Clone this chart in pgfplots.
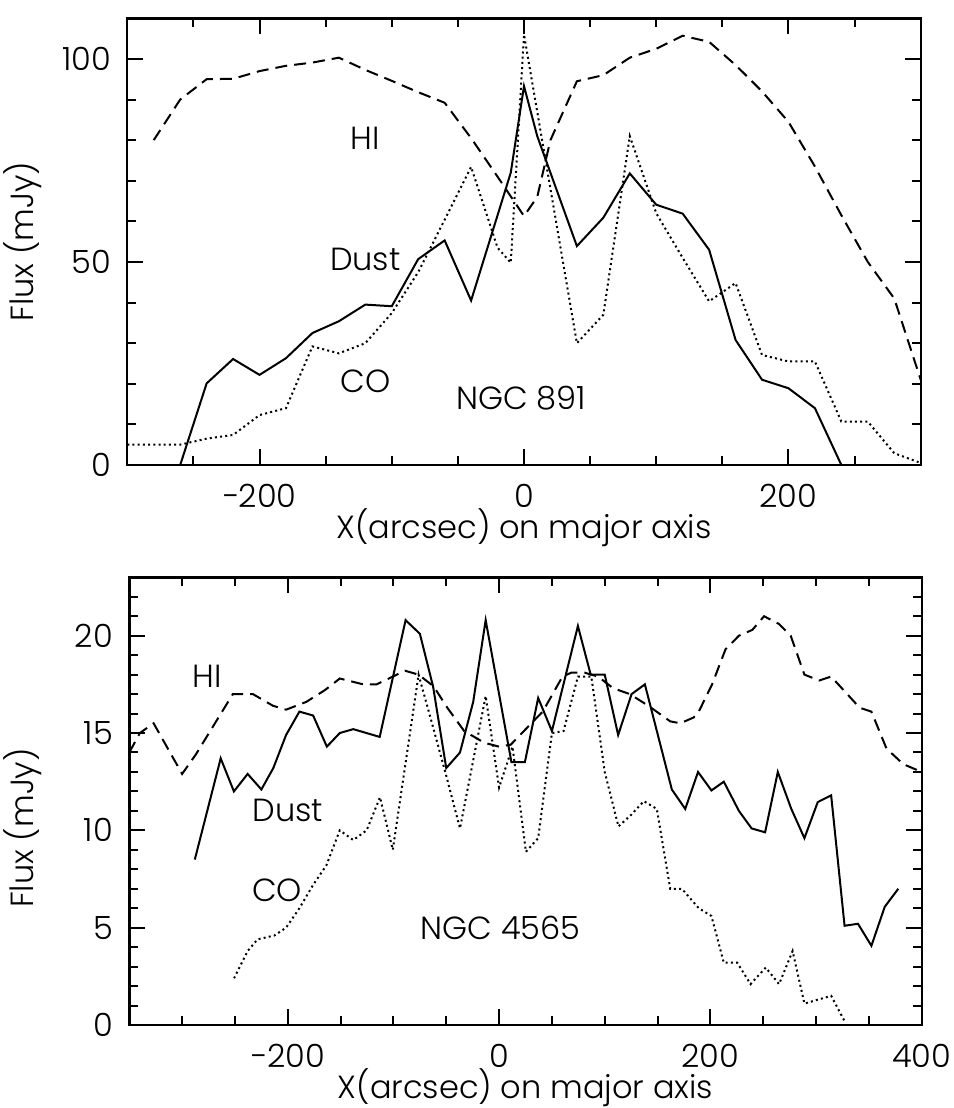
\documentclass[border=0pt]{standalone}
\usepackage{pgfplots}
\pgfplotsset{compat=1.18}
\usepackage{fontspec}
\setmainfont{Poppins Light}
\pgfplotsset{
  myaxis/.style={
    scale only axis,
    axis line style={line width=1.2pt},
    every tick/.style={line width=1pt, black},
    major tick length=8pt,
    minor tick length=4.5pt,
    tick align=inside,
    font=\fontsize{16}{19}\selectfont,
    tick label style={font=\fontsize{16}{19}\selectfont},
    xticklabel style={anchor=north, inner sep=0pt, yshift=-9.5pt},
    yticklabel style={anchor=east, inner sep=0pt, xshift=-8pt},
    xlabel style={at={(axis description cs:0.5,-0.1634)}, anchor=base, inner sep=0pt},
    ylabel style={at={(axis description cs:-0.1075,0.5)}, anchor=south, inner sep=0pt},
    every axis plot/.append style={line width=1pt, black},
    clip=true,
  },
  solidl/.style={solid},
  dashl/.style={dash pattern=on 6pt off 3.5pt},
  dotl/.style={dash pattern=on 1pt off 1.6pt},
}
\begin{document}
\begin{tikzpicture}
\useasboundingbox (0,0) rectangle (476.5pt,-554pt);
% ---------------- NGC 891 ----------------
\begin{axis}[myaxis, at={(63.65pt,-232.5pt)}, anchor=south west,
  width=396.7pt, height=223.35pt,
  xmin=-300, xmax=300, ymin=0, ymax=110,
  xtick={-200,0,200}, xticklabels={−200,0,200},
  minor xtick={-300,-250,...,300},
  ytick={0,50,100}, yticklabels={0,50,100},
  minor ytick={0,10,...,110},
  xlabel={X(arcsec) on major axis}, ylabel={Flux (mJy)}]
% Dust
\addplot[solidl] coordinates {(-260,0) (-240,20.1) (-220,26.1) (-200,22.2) (-180,26.3) (-160,32.5) (-140,35.4) (-120,39.5) (-100,39.1) (-80,50.7) (-60,55.3) (-40,40.5) (-10,72) (0,93.3) (10,81) (40,53.9) (60,60.9) (80,71.8) (100,64.1) (120,61.9) (140,53) (160,30.8) (180,21) (200,18.9) (220,14) (240,0)};
% HI
\addplot[dashl] coordinates {(-280,80) (-260,90) (-240,95) (-220,95.1) (-200,97) (-180,98.3) (-160,99.1) (-140,100.3) (-120,97.3) (-100,94.6) (-80,91.8) (-60,89.2) (-40,80.5) (-20,71) (0,61.3) (10,66) (20,80) (40,94.5) (60,96) (80,100.3) (100,102.5) (120,105.7) (140,104.2) (160,98.5) (180,92) (200,84.5) (220,73.5) (240,61.5) (260,50) (280,41) (300,21)};
% CO
\addplot[dotl] coordinates {(-300,5) (-260,5) (-240,6.5) (-220,7.4) (-200,12.3) (-180,14) (-160,29.2) (-140,27.5) (-120,30) (-100,37.4) (-80,47.5) (-60,60.4) (-40,73.4) (-20,53.5) (-10,49.8) (0,106) (10,87) (20,68) (40,30) (60,37) (80,81) (100,62) (120,51) (140,40.3) (160,44.8) (180,27.1) (200,25.5) (220,25.5) (240,10.7) (260,10.7) (280,2.9) (300,0.5)};
\node at (axis cs:-120,80.4) {HI};
\node at (axis cs:-120,50.7) {Dust};
\node at (axis cs:-120,20.5) {CO};
\node at (axis cs:-2,16.5) {NGC 891};
\end{axis}
% ---------------- NGC 4565 ----------------
\begin{axis}[myaxis, at={(64.65pt,-512.5pt)}, anchor=south west,
  width=396.2pt, height=223.85pt,
  xmin=-350, xmax=400, ymin=0, ymax=23,
  xtick={-200,0,200,400}, xticklabels={−200,0,200,400},
  minor xtick={-350,-300,...,400},
  ytick={0,5,10,15,20}, yticklabels={0,5,10,15,20},
  minor ytick={0,1,...,23},
  xlabel={X(arcsec) on major axis}, ylabel={Flux (mJy)},
  ylabel style={at={(axis description cs:-0.110,0.44)}}]
% Dust
\addplot[solidl] coordinates {(-288,8.5) (-263.5,13.7) (-251,12.0) (-238,12.9) (-225,12.1) (-213.7,13.2) (-201.6,14.9) (-189,16.1) (-176,15.9) (-163,14.3) (-150.8,15.0) (-138,15.2) (-113,14.8) (-88.5,20.8) (-75,20.1) (-62.5,17.4) (-50,13.2) (-37,14.0) (-24.5,16.6) (-12.7,20.8) (0,17.0) (11.7,13.5) (24.4,13.5) (37,16.8) (50,15.1) (74.6,20.5) (86.7,18.0) (100,18.0) (112.7,14.9) (125.4,17.0) (138,17.5) (163.5,12.1) (176.2,11.1) (188.3,13.0) (201,12.05) (212.7,12.5) (227,11.0) (239,10.1) (251.8,9.9) (263.8,13.0) (276.6,11.1) (289,9.6) (301.6,11.45) (314.3,11.8) (327,5.1) (339.7,5.2) (352.4,4.07) (365,6.07) (377.8,7.0)};
% HI
\addplot[dashl] coordinates {(-350,14.0) (-340,15.0) (-327,15.5) (-300,12.9) (-287,13.9) (-252,17.0) (-233,17.0) (-214,16.4) (-201.6,16.2) (-182.5,16.6) (-165,17.2) (-150.8,17.8) (-128.6,17.5) (-116,17.5) (-89,18.2) (-76.2,18.0) (-62,17.4) (-49,16.3) (-33,15.1) (-14,14.5) (0,14.3) (11,14.4) (27,15.3) (41.3,16.1) (60,17.9) (68.3,18.1) (81,18.1) (93.7,17.9) (108,17.3) (123.8,17.0) (141.3,16.4) (162,15.6) (171.5,15.5) (184.2,15.8) (189,16.1) (201.6,17.5) (214.3,19.3) (227,20.0) (239.7,20.3) (250.8,21.0) (265,20.6) (276,20.0) (289,18.0) (303,17.7) (314.3,17.9) (341.3,16.3) (352.4,16.1) (366.7,14.2) (382.6,13.4) (400,13.0)};
% CO
\addplot[dotl] coordinates {(-250.8,2.4) (-238,3.8) (-228.6,4.4) (-212.7,4.6) (-201.6,5.0) (-189,6.0) (-176,7.2) (-163.5,8.2) (-150.8,10.0) (-138,9.5) (-125.4,10.0) (-112.7,11.7) (-100.6,9.0) (-76.2,18.0) (-63.5,15.5) (-50,12.8) (-37,10.1) (-12.7,16.9) (0,12.2) (12.7,14.3) (25.4,8.9) (37,9.6) (50,15.0) (61,15.1) (74.6,17.9) (87.3,17.9) (100,13.0) (113,10.2) (125,10.8) (137,11.5) (149.3,11.1) (162,7.0) (173,7.0) (189,6.0) (201,5.6) (212.7,3.2) (225.4,3.2) (238,2.1) (252.4,2.95) (265,2.1) (277.8,3.8) (289,1.1) (301.6,1.3) (314.3,1.5) (327,0.2)};
\node at (axis cs:-276,17.9) {HI};
\node at (axis cs:-200,11.0) {Dust};
\node at (axis cs:-210,6.9) {CO};
\node at (axis cs:1.6,5.0) {NGC 4565};
\end{axis}
\end{tikzpicture}
\end{document}
